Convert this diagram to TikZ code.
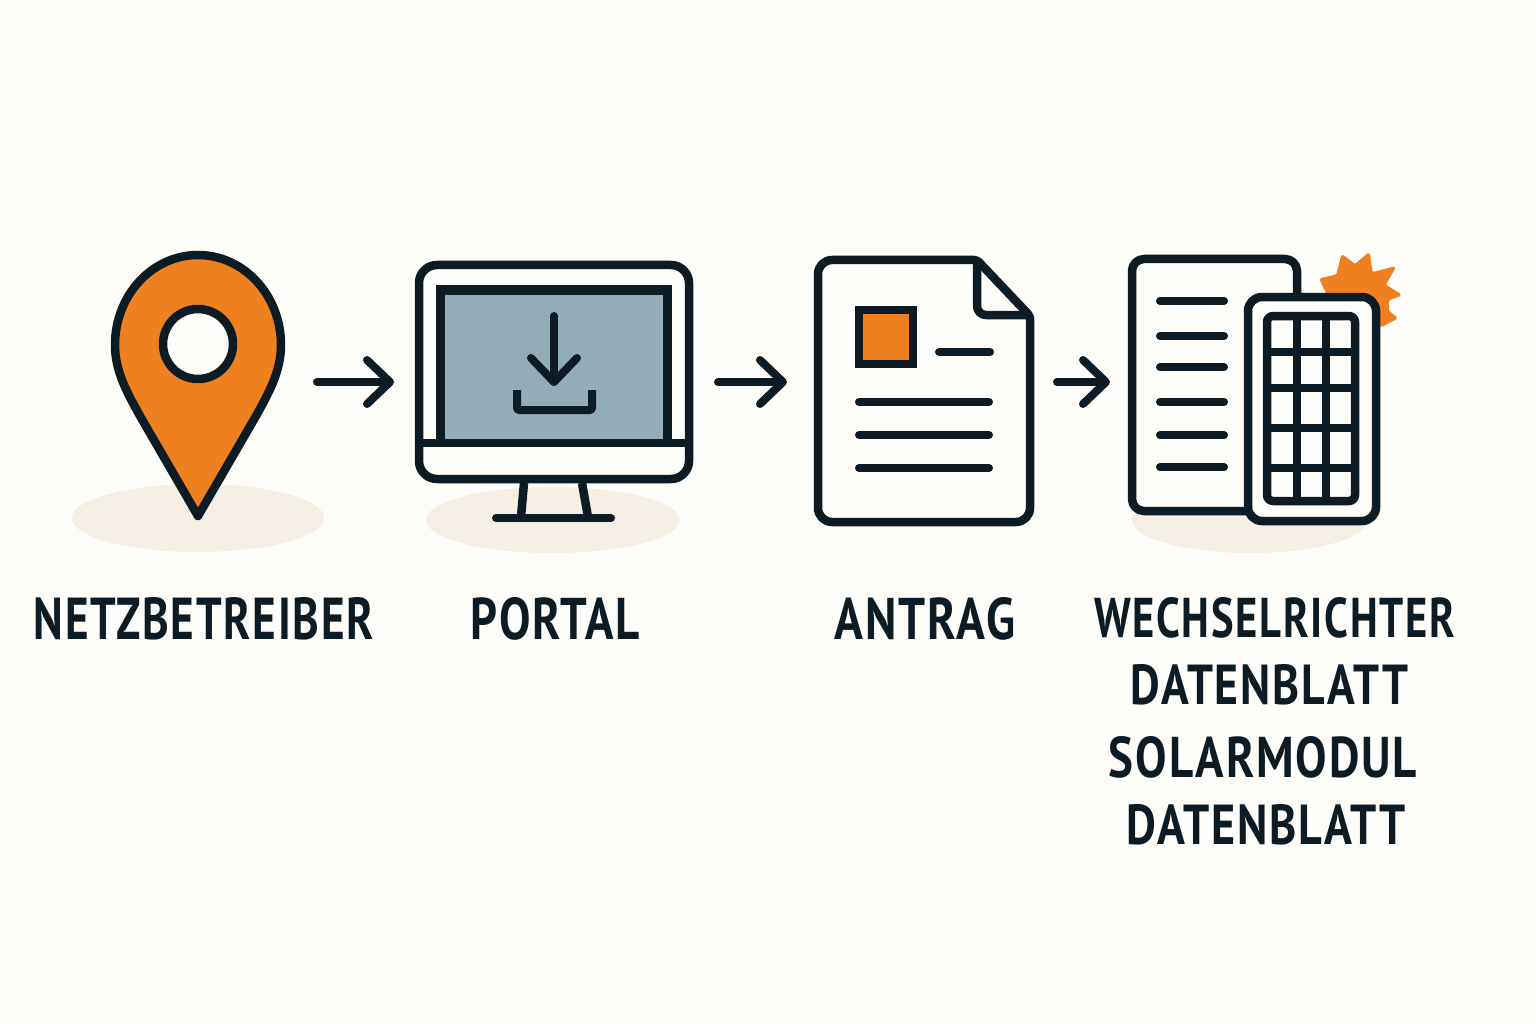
\documentclass[tikz,border=0pt]{standalone}
\usepackage{fontspec}
\setmainfont{PT Sans}[LetterSpace=4]
\usetikzlibrary{arrows.meta}
\definecolor{bgc}{HTML}{FFFDF9}
\definecolor{ink}{HTML}{0D1C24}
\definecolor{org}{HTML}{EE8020}
\definecolor{blu}{HTML}{93ACBA}
\definecolor{shd}{HTML}{F4EEE4}
\tikzset{
  x=1pt,y=-1pt,
  icon/.style={draw=ink,line width=8.5pt,line join=round},
  rule/.style={draw=ink,line width=8pt,line cap=round},
  flow/.style={draw=ink,line width=8pt,line cap=round,-{Straight Barb[length=23pt,width=44pt,round]}},
  shadow/.style={fill=shd,draw=none},
  lab/.style={inner sep=0pt,outer sep=0pt,text=ink}
}
\newcommand{\lbl}[3]{\resizebox{#1pt}{#2pt}{\bfseries #3}}
\begin{document}
\begin{tikzpicture}
\useasboundingbox (0,0) rectangle (1536,1024);
\fill[bgc] (0,0) rectangle (1536,1024);
% shadows
\fill[shadow] (198,518) ellipse [x radius=126,y radius=34];
\fill[shadow] (553,520) ellipse [x radius=127,y radius=33];
\fill[shadow] (1250,520) ellipse [x radius=118,y radius=33];
% pin
\path[icon,fill=org] (198,516) -- (140,416) .. controls (128,394) and (115,372) .. (115,345) arc [start angle=180,end angle=0,x radius=83,y radius=-90] .. controls (281,372) and (268,394) .. (256,416) -- cycle;
\path[icon,fill=bgc] (198,344) circle [radius=35];
% monitor
\path[icon,fill=bgc,rounded corners=18pt] (419,265) rectangle (689,479);
\fill[blu] (439,290) rectangle (667,443);
\draw[ink,line width=9pt,line join=miter] (440,443) -- (440,290) -- (667,290) -- (667,443);
\draw[icon] (419,443) -- (689,443);
\draw[rule] (554,316) -- (554,382);
\draw[rule,line join=round] (531,358) -- (554,382) -- (577,358);
\draw[ink,line width=8pt,line join=round,rounded corners=1.5pt] (517,390) -- (517,410) -- (592,410) -- (592,390);
\draw[icon] (524,483) -- (521,517);
\draw[icon] (582,483) -- (588,517);
\draw[rule] (496,518) -- (611,518);
% application document
\path[icon,fill=bgc] (900,260) [rounded corners=3pt] -- (977,260) -- (1030,316) [rounded corners=14pt] -- (1030,522) -- (818,522) -- (818,260) -- cycle;
\draw[icon,rounded corners=9pt] (977,260) -- (977,315) -- (1030,315);
\path[fill=org,draw=ink,line width=8pt] (859,310) rectangle (913,364);
\draw[rule] (939,352) -- (990,352);
\draw[rule] (859,402) -- (989,402);
\draw[rule] (859,435) -- (989,435);
\draw[rule] (859,468) -- (989,468);
% sun
\fill[org,draw=org,line width=1.5pt,line join=round,rounded corners=1.5pt] (1320,279) -- (1337,275) -- (1342,255) -- (1355,265) -- (1369,253) -- (1372,273) -- (1395,267) -- (1385,285) -- (1401,295) -- (1388,300) -- (1388,311) -- (1397,318) -- (1382,326) -- (1340,320) -- cycle;
% datasheet
\path[icon,fill=bgc,rounded corners=12pt] (1132,259) rectangle (1297,511);
\foreach \yy in {301,336,367,402,435,467} \draw[rule] (1160,\yy) -- (1224,\yy);
% module
\path[icon,fill=bgc,rounded corners=14pt] (1248,297) rectangle (1376,521);
\path[icon,rounded corners=6pt] (1267,316) rectangle (1355,501);
\foreach \xx in {1297,1326} \draw[ink,line width=8pt] (\xx,316) -- (\xx,501);
\foreach \yy in {352,388,428,468} \draw[ink,line width=8pt] (1267,\yy) -- (1355,\yy);
% connectors
\coordinate (pinE) at (317,382);
\coordinate (monW) at (394,382);
\coordinate (monE) at (718,382);
\coordinate (docW) at (787,382);
\coordinate (docE) at (1057,382);
\coordinate (datW) at (1110,382);
\draw[flow] (pinE) -- (monW);
\draw[flow] (monE) -- (docW);
\draw[flow] (docE) -- (datW);
% labels
\node[lab] (l1) at (204,619) {\lbl{340}{42}{NETZBETREIBER}};
\node[lab] (l2) at (555.5,619) {\lbl{169}{42}{PORTAL}};
\node[lab] (l3) at (925,619) {\lbl{180}{42}{ANTRAG}};
\node[lab] (l4) at (1274.5,618) {\lbl{361}{40}{WECHSELRICHTER}};
\node[lab] (l5) at (1269.5,685) {\lbl{277}{40}{DATENBLATT}};
\node[lab] (l6) at (1263,757.5) {\lbl{308}{41}{SOLARMODUL}};
\node[lab] (l7) at (1266.5,825) {\lbl{279}{40}{DATENBLATT}};
\end{tikzpicture}
\end{document}
